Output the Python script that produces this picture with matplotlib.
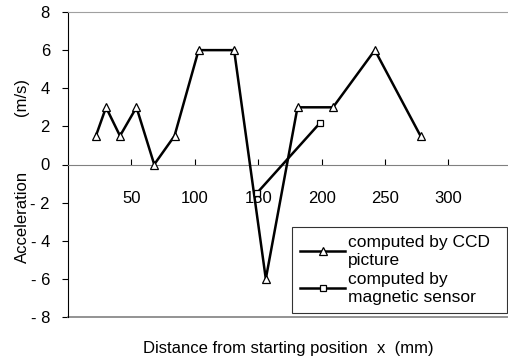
import matplotlib
matplotlib.use('Agg')
import matplotlib.pyplot as plt

# Datos
x_ccd = [22, 30, 41, 54, 68, 84, 103, 131, 156, 181, 209, 242, 278]
a_ccd = [1.5, 3, 1.5, 3, 0, 1.5, 6, 6, -6, 3, 3, 6, 1.5]
x_mag = [149, 199]
a_mag = [-1.5, 2.2]
xticks = [50, 100, 150, 200, 250, 300]
yticks = [-8, -6, -4, -2, 0, 2, 4, 6, 8]

plt.rcParams['font.family'] = ['Liberation Sans', 'DejaVu Sans']

fig = plt.figure(figsize=(5.08, 3.6), dpi=100)
ax = fig.add_axes([68 / 508, 43 / 360, 1 - 68 / 508, 305 / 360])

ax.plot(x_ccd, a_ccd, '-', color='black', linewidth=1.8, marker='^',
        markersize=6, markerfacecolor='white', markeredgecolor='black',
        markeredgewidth=0.9, label='computed by CCD\npicture', zorder=3)
ax.plot(x_mag, a_mag, '-', color='black', linewidth=1.8, marker='s',
        markersize=5, markerfacecolor='white', markeredgecolor='black',
        markeredgewidth=0.9, label='computed by\nmagnetic sensor', zorder=3)

ax.set_xlim(0, 347)
ax.set_ylim(-8, 8)
ax.set_xticks(xticks)
ax.set_yticks(yticks)
ax.set_yticklabels([str(v).replace('-', '- ') for v in yticks])

# Eje x en y=0
ax.spines['bottom'].set_position(('data', 0))
ax.spines['bottom'].set_color('#808080')
ax.spines['top'].set_color('#a0a0a0')
ax.spines['right'].set_visible(False)
ax.spines['left'].set_color('black')
ax.axhline(-8, color='#808080', linewidth=1.2, clip_on=False)

ax.tick_params(axis='x', direction='in', length=4, pad=19, labelsize=12)
ax.tick_params(axis='y', direction='out', length=4, pad=9, labelsize=12)

# Etiqueta del eje y en dos partes
fig.text(22 / 508, 1 - 217 / 360, 'Acceleration', rotation=90,
         ha='center', va='center', fontsize=12)
fig.text(22 / 508, 1 - 97 / 360, '(m/s)', rotation=90,
         ha='center', va='center', fontsize=12)
fig.text(288 / 508, 1 - 348 / 360, 'Distance from starting position  x  (mm)',
         ha='center', va='center', fontsize=12)

leg = ax.legend(loc='lower left', bbox_to_anchor=(0.5095, 0.013, 0.488, 0.282),
                mode='expand', fontsize=12.5, frameon=True, fancybox=False,
                handlelength=2.6, handletextpad=0.15, borderpad=0.45,
                labelspacing=0.2, borderaxespad=0)
leg.get_frame().set_edgecolor('black')
leg.get_frame().set_linewidth(0.8)
for t in leg.get_texts():
    t.set_linespacing(1.3)

plt.savefig('out.png', dpi=100)
